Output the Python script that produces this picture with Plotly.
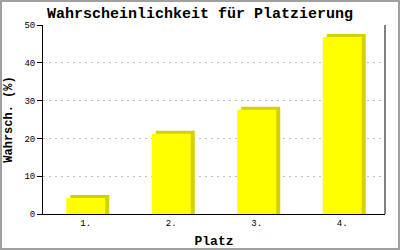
import plotly.graph_objects as go

categories = ["1.", "2.", "3.", "4."]
values = [4.2, 21.2, 27.6, 46.8]
y_ticks = [0, 10, 20, 30, 40, 50]

W, H = 400, 250
ml, mr, mt, mb = 43, 15, 25, 36
pw, ph = W - ml - mr, H - mt - mb

bw = 0.456
dx = 4 / (pw / len(categories))      # 4 px depth in category units
dy = 3 / (ph / 50)                   # 3 px depth in value units

fig = go.Figure()
fig.add_trace(go.Bar(
    x=categories, y=[v + dy for v in values], width=bw, offset=-bw / 2 + dx,
    marker=dict(color="#d2d200", line=dict(width=0)), hoverinfo="skip"))
fig.add_trace(go.Bar(
    x=categories, y=values, width=bw, offset=-bw / 2,
    marker=dict(color="#ffff00", line=dict(width=0))))

mono = "Liberation Mono, DejaVu Sans Mono, monospace"
fig.update_layout(
    width=W, height=H, barmode="overlay", showlegend=False,
    margin=dict(l=ml, r=mr, t=mt, b=mb, autoexpand=False),
    paper_bgcolor="white", plot_bgcolor="white",
    title=dict(text="<b>Wahrscheinlichkeit für Platzierung</b>",
               x=0.5, xanchor="center", y=1 - 13 / H, yanchor="middle",
               font=dict(family=mono, size=15, color="black")),
    xaxis=dict(showgrid=False, showline=True, linecolor="black", linewidth=1,
               mirror=False, ticks="", automargin=False,
               tickfont=dict(family=mono, size=9, color="black"),
               title=dict(text="<b>Platz</b>", font=dict(family=mono, size=13, color="black"),
                          standoff=8)),
    yaxis=dict(range=[0, 50], tickvals=y_ticks, showgrid=True, automargin=False,
               gridcolor="#c0c0c0", griddash="2px,4px", gridwidth=1,
               zeroline=False, showline=True, linecolor="black", linewidth=1,
               ticks="outside", ticklen=5, tickcolor="black",
               tickfont=dict(family=mono, size=9, color="black"),
               title=dict(text="<b>Wahrsch. (%)</b>", font=dict(family=mono, size=12, color="black"),
                          standoff=9)),
    shapes=[
        dict(type="line", xref="paper", yref="paper", x0=1, x1=1, y0=0, y1=1,
             line=dict(color="black", width=1)),
        dict(type="rect", xref="paper", yref="paper",
             x0=(1 - ml) / pw, x1=(W - 1 - ml) / pw,
             y0=-(mb - 1) / ph, y1=1 + (mt - 1) / ph,
             line=dict(color="#a0a0a0", width=2), layer="above"),
    ],
)
fig.write_html("out.html")
